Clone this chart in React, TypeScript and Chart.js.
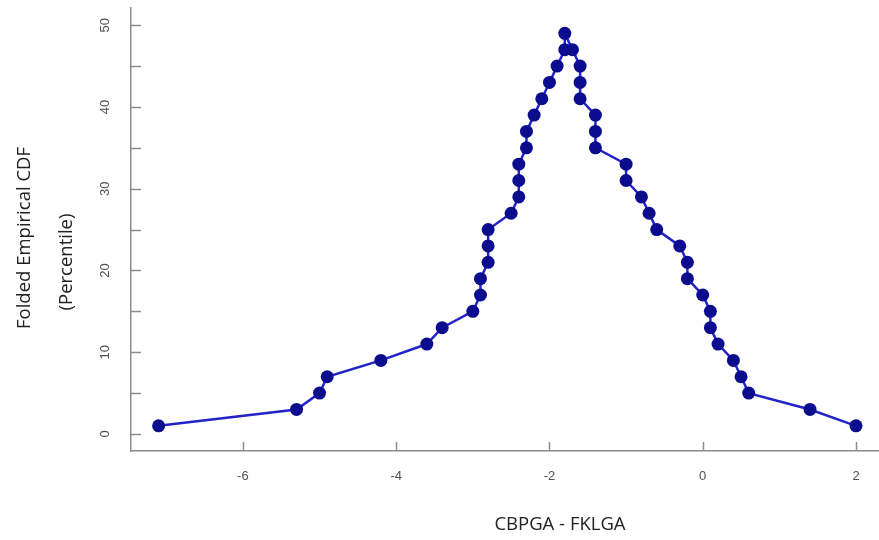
import React, { useEffect, useRef } from "react";
import { Chart, registerables } from "chart.js";

Chart.register(...registerables);

// Difference values (x) in plotting order: left flank ascending, then right flank descending
const diffValues = [
  -7.1, -5.3, -5.0, -4.9, -4.2, -3.6, -3.4, -3.0, -2.9, -2.9, -2.8, -2.8, -2.8,
  -2.5, -2.4, -2.4, -2.4, -2.3, -2.3, -2.2, -2.1, -2.0, -1.9, -1.8, -1.8,
  -1.7, -1.6, -1.6, -1.6, -1.4, -1.4, -1.4, -1.0, -1.0, -0.8, -0.7, -0.6,
  -0.3, -0.2, -0.2, 0.0, 0.1, 0.1, 0.2, 0.4, 0.5, 0.6, 1.4, 2.0,
];
// Folded percentile values (y)
const percentileValues = [
  1, 3, 5, 7, 9, 11, 13, 15, 17, 19, 21, 23, 25,
  27, 29, 31, 33, 35, 37, 39, 41, 43, 45, 47, 49,
  47, 45, 43, 41, 39, 37, 35, 33, 31, 29, 27, 25,
  23, 21, 19, 17, 15, 13, 11, 9, 7, 5, 3, 1,
];

const xTickValues = [-6, -4, -2, 0, 2];
const yTickValues = [0, 5, 10, 15, 20, 25, 30, 35, 40, 45, 50];
const yLabelValues = [0, 10, 20, 30, 40, 50];
const xTitle = "CBPGA - FKLGA";
const yTitleLines = ["Folded Empirical CDF", "(Percentile)"];

const AXIS_COLOR = "#8c8c8c";
const TICK_FONT = "13px 'Liberation Sans', Arial, sans-serif";
const TITLE_FONT = "18.5px 'Open Sans', sans-serif";

const axisPlugin = {
  id: "customAxes",
  afterDraw(chart: any) {
    const { ctx } = chart;
    const xs = chart.scales.x;
    const ys = chart.scales.y;
    ctx.save();
    ctx.strokeStyle = AXIS_COLOR;
    ctx.lineWidth = 1.5;
    // inward tick marks
    xTickValues.forEach((v) => {
      const px = Math.round(xs.getPixelForValue(v)) + 0.5;
      ctx.beginPath();
      ctx.moveTo(px, ys.bottom);
      ctx.lineTo(px, ys.bottom - 9);
      ctx.stroke();
    });
    yTickValues.forEach((v) => {
      const py = Math.round(ys.getPixelForValue(v)) + 0.5;
      ctx.beginPath();
      ctx.moveTo(xs.left, py);
      ctx.lineTo(xs.left + 10, py);
      ctx.stroke();
    });
    // tick labels
    ctx.fillStyle = "#505050";
    ctx.font = TICK_FONT;
    ctx.textAlign = "center";
    ctx.textBaseline = "middle";
    xTickValues.forEach((v) => {
      ctx.fillText(String(v), xs.getPixelForValue(v), ys.bottom + 25);
    });
    yLabelValues.forEach((v) => {
      ctx.save();
      ctx.translate(xs.left - 26, ys.getPixelForValue(v));
      ctx.rotate(-Math.PI / 2);
      ctx.fillText(String(v), 0, 0);
      ctx.restore();
    });
    // titles
    ctx.fillStyle = "#222";
    ctx.font = TITLE_FONT;
    ctx.fillText(xTitle, 560, 525);
    const yTitlePos = [
      [25, 238],
      [67, 262],
    ];
    yTitleLines.forEach((line, i) => {
      ctx.save();
      ctx.translate(yTitlePos[i][0], yTitlePos[i][1]);
      ctx.rotate(-Math.PI / 2);
      ctx.fillText(line, 0, 0);
      ctx.restore();
    });
    ctx.restore();
  },
};

export default function App() {
  const canvasRef = useRef<HTMLCanvasElement | null>(null);

  useEffect(() => {
    if (!canvasRef.current) return;
    const points = diffValues.map((x, i) => ({ x, y: percentileValues[i] }));
    const chart = new Chart(canvasRef.current, {
      type: "scatter",
      data: {
        datasets: [
          {
            data: points,
            showLine: true,
            borderColor: "#2323c8",
            borderWidth: 2.5,
            backgroundColor: "#0c0c8e",
            pointBackgroundColor: "#0c0c8e",
            pointBorderColor: "#0c0c8e",
            pointBorderWidth: 0,
            pointRadius: 6.5,
            pointHoverRadius: 6.5,
          },
        ],
      },
      options: {
        animation: false,
        responsive: false,
        maintainAspectRatio: false,
        layout: { autoPadding: false, padding: { top: 8, right: 0, left: 0, bottom: 0 } },
        plugins: {
          legend: { display: false },
          tooltip: { enabled: false },
        },
        scales: {
          x: {
            type: "linear",
            min: -7.46,
            max: 2.3,
            grid: { display: false, drawTicks: false },
            border: { display: true, color: AXIS_COLOR, width: 1.5 },
            ticks: { display: false },
            afterFit: (scale: any) => {
              scale.height = 89;
            },
          },
          y: {
            type: "linear",
            min: -2.08,
            max: 52.1,
            grid: { display: false, drawTicks: false },
            border: { display: true, color: AXIS_COLOR, width: 1.5 },
            ticks: { display: false },
            afterFit: (scale: any) => {
              scale.width = 131;
            },
          },
        },
      },
      plugins: [axisPlugin],
    });
    return () => chart.destroy();
  }, []);

  return (
    <div style={{ position: "fixed", left: 0, top: 0, width: 879, height: 540, background: "#fff" }}>
      <canvas ref={canvasRef} width={879} height={540} style={{ width: 879, height: 540 }} />
    </div>
  );
}
